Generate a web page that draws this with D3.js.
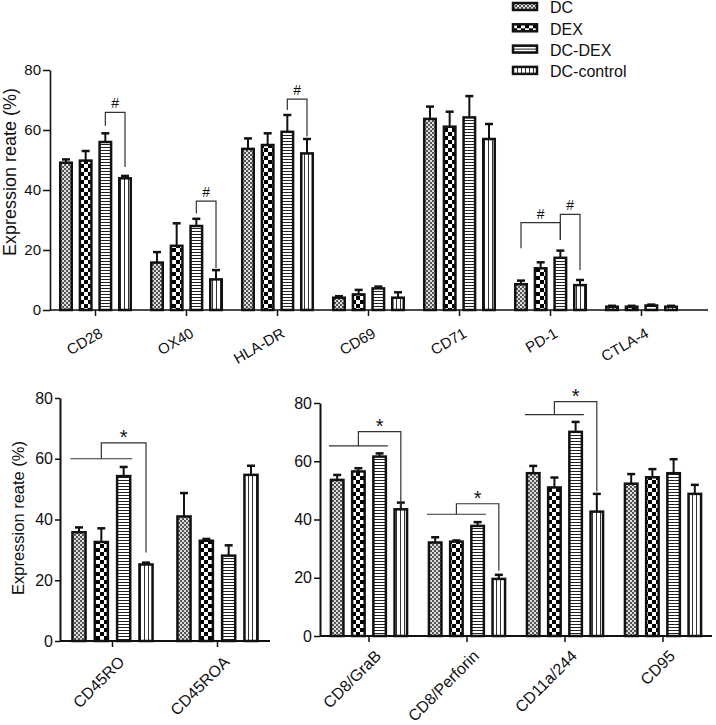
<!DOCTYPE html>
<html>
<head>
<meta charset="utf-8">
<script src="https://cdn.jsdelivr.net/npm/d3@7"></script>
<style>
  body { margin: 0; background: #fff; }
  svg { display: block; font-family: "Liberation Sans", Arial, sans-serif; }
</style>
</head>
<body>
<div id="chart"></div>
<script>
// ---- data ----
const series = ['DC', 'DEX', 'DC-DEX', 'DC-control'];

const topCats = ['CD28', 'OX40', 'HLA-DR', 'CD69', 'CD71', 'PD-1', 'CTLA-4'];
const topMean = [
  [49.1, 15.8, 53.7, 4.1, 63.7, 8.6, 1.1],   // DC
  [49.8, 21.4, 55.0, 5.2, 61.1, 13.9, 1.1],  // DEX
  [56.0, 28.0, 59.4, 7.2, 64.2, 17.4, 1.5],  // DC-DEX
  [43.9, 10.2, 52.2, 4.1, 57.0, 8.3, 1.1]    // DC-control
];
const topErr = [
  [1.1, 3.5, 3.5, 0.5, 4.1, 1.2, 0.3],
  [3.2, 7.5, 3.9, 1.5, 5.0, 2.0, 0.3],
  [2.9, 2.4, 5.6, 0.6, 7.1, 2.4, 0.3],
  [0.8, 3.1, 4.8, 1.8, 5.0, 1.7, 0.3]
];

const leftCats = ['CD45RO', 'CD45ROA'];
const leftMean = [
  [35.8, 41.0],
  [32.6, 33.0],
  [54.3, 28.1],
  [25.2, 54.7]
];
const leftErr = [
  [1.6, 7.7],
  [4.5, 0.6],
  [3.0, 3.4],
  [0.6, 3.0]
];

const rightCats = ['CD8/GraB', 'CD8/Perforin', 'CD11a/244', 'CD95'];
const rightMean = [
  [53.6, 32.1, 55.9, 52.3],
  [56.5, 32.4, 51.0, 54.5],
  [61.6, 37.8, 70.1, 55.9],
  [43.5, 19.6, 42.7, 48.8]
];
const rightErr = [
  [1.7, 1.8, 2.5, 3.3],
  [1.1, 0.4, 3.4, 2.8],
  [1.1, 1.3, 3.4, 4.8],
  [2.3, 1.4, 6.1, 3.1]
];

const yTicks = [0, 20, 40, 60, 80];

// '#' brackets between two bars: a, b = series index; values in %
const topBrackets = [
  { cat: 'CD28', a: 2, b: 3, top: 65.9, dropA: 61.4, dropB: 47.7 },
  { cat: 'OX40', a: 2, b: 3, top: 36.3, dropA: 32.2, dropB: 14.0 },
  { cat: 'HLA-DR', a: 2, b: 3, top: 70.3, dropA: 66.7, dropB: 57.8 },
  { cat: 'PD-1', a: 0, b: 2, top: 29.1, dropA: 20.6, dropB: 23.3 },
  { cat: 'PD-1', a: 2, b: 3, top: 31.9, dropA: 23.3, dropB: 13.3 }
];
// '*' brackets: group of bars 0..2 against bar 3
const leftStars = [
  { cat: 'CD45RO', low: 60.0, high: 65.2, drop: 29.1 }
];
const rightStars = [
  { cat: 'CD8/GraB', low: 65.3, high: 70.2, drop: 44.4 },
  { cat: 'CD8/Perforin', low: 41.8, high: 45.4, drop: 22.4 },
  { cat: 'CD11a/244', low: 76.0, high: 80.5, drop: 49.6 }
];

// ---- drawing ----
const width = 716, height = 725;
const svg = d3.select('#chart').append('svg')
  .attr('width', width)
  .attr('height', height);

const INK = '#111';
const defs = svg.append('defs');

function pattern(id, w, h) {
  return defs.append('pattern').attr('id', id)
    .attr('patternUnits', 'userSpaceOnUse')
    .attr('width', w).attr('height', h);
}
// DC: fine grey checker
const p0 = pattern('pat-0', 4, 4);
p0.append('rect').attr('width', 4).attr('height', 4).attr('fill', '#ddd');
p0.append('rect').attr('width', 2).attr('height', 2).attr('fill', '#555');
p0.append('rect').attr('x', 2).attr('y', 2).attr('width', 2).attr('height', 2).attr('fill', '#555');
// DEX: coarse black/white checker
const p1 = pattern('pat-1', 8, 8);
p1.append('rect').attr('width', 8).attr('height', 8).attr('fill', '#000');
p1.append('rect').attr('width', 4).attr('height', 4).attr('fill', '#fff');
p1.append('rect').attr('x', 4).attr('y', 4).attr('width', 4).attr('height', 4).attr('fill', '#fff');
// DC-DEX: horizontal stripes
const p2 = pattern('pat-2', 4, 3);
p2.append('rect').attr('width', 4).attr('height', 3).attr('fill', '#fff');
p2.append('rect').attr('width', 4).attr('height', 1).attr('fill', '#222');
// DC-control: vertical stripes
const p3 = pattern('pat-3', 4, 4);
p3.append('rect').attr('width', 4).attr('height', 4).attr('fill', '#fff');
p3.append('rect').attr('width', 1).attr('height', 4).attr('fill', '#333');

const fillOf = i => `url(#pat-${i})`;

function drawPanel(cfg) {
  const g = svg.append('g');
  const x0 = d3.scaleBand().domain(cfg.cats).range(cfg.xRange)
    .paddingInner(cfg.groupPad).paddingOuter(cfg.groupPad / 2);
  const x1 = d3.scaleBand().domain(d3.range(series.length))
    .range([0, x0.bandwidth()]).paddingInner(cfg.barPad);
  const y = d3.scaleLinear().domain([0, 80]).range(cfg.yRange);
  const bw = x1.bandwidth();
  const cx = (cat, i) => x0(cat) + x1(i) + bw / 2;
  const mid = cat => x0(cat) + x0.bandwidth() / 2;

  // bars + error bars
  series.forEach((s, i) => {
    const rows = cfg.cats.map((c, j) => ({ cat: c, v: cfg.mean[i][j], e: cfg.err[i][j] }));
    const sg = g.append('g').attr('class', 'series');
    sg.selectAll('line.err')
      .data(rows).enter().append('line')
      .attr('x1', d => cx(d.cat, i)).attr('x2', d => cx(d.cat, i))
      .attr('y1', d => y(d.v)).attr('y2', d => y(d.v + d.e))
      .attr('stroke', INK).attr('stroke-width', 2);
    sg.selectAll('line.cap')
      .data(rows).enter().append('line')
      .attr('x1', d => cx(d.cat, i) - 4).attr('x2', d => cx(d.cat, i) + 4)
      .attr('y1', d => y(d.v + d.e)).attr('y2', d => y(d.v + d.e))
      .attr('stroke', INK).attr('stroke-width', 2.5);
    sg.selectAll('rect')
      .data(rows).enter().append('rect')
      .attr('x', d => x0(d.cat) + x1(i))
      .attr('y', d => y(d.v))
      .attr('width', bw)
      .attr('height', d => y(0) - y(d.v))
      .attr('fill', fillOf(i))
      .attr('stroke', INK).attr('stroke-width', 2.5);
  });

  // axes
  const ya = g.append('g')
    .attr('transform', `translate(${cfg.xRange[0]},0)`)
    .call(d3.axisLeft(y).tickValues(yTicks).tickSize(cfg.tickLen).tickSizeOuter(0).tickPadding(2));
  ya.select('.domain').attr('stroke', INK).attr('stroke-width', cfg.axisW);
  ya.selectAll('.tick line').attr('stroke', INK).attr('stroke-width', 1.5);
  ya.selectAll('.tick text').attr('font-size', cfg.tickFont).attr('fill', INK)
    .attr('font-family', '"Liberation Sans", Arial, sans-serif');

  const xa = g.append('g')
    .attr('transform', `translate(0,${y(0)})`)
    .call(d3.axisBottom(x0).tickSize(6).tickSizeOuter(0).tickFormat(''));
  xa.select('.domain').remove();
  xa.append('line')
    .attr('x1', cfg.xRange[0]).attr('x2', cfg.axisEnd)
    .attr('stroke', INK).attr('stroke-width', cfg.axisW);
  xa.selectAll('.tick line').attr('stroke', INK).attr('stroke-width', 1.5);

  // rotated category labels
  g.append('g').selectAll('text')
    .data(cfg.cats).enter().append('text')
    .attr('transform', d => `translate(${mid(d) + cfg.labelDx},${y(0) + cfg.labelDy}) rotate(${cfg.labelRot})`)
    .attr('text-anchor', 'end')
    .attr('dy', '0.71em')
    .attr('font-size', cfg.labelFont)
    .attr('fill', INK)
    .text(d => d);

  // y title
  if (cfg.title) {
    g.append('text')
      .attr('transform', `translate(${cfg.title.x},${cfg.title.y}) rotate(-90)`)
      .attr('text-anchor', 'middle')
      .attr('dy', '0.35em')
      .attr('font-size', cfg.title.size)
      .attr('fill', INK)
      .text('Expression reate (%)');
  }

  // '#' brackets
  (cfg.pairs || []).forEach(b => {
    const xa_ = cx(b.cat, b.a), xb = cx(b.cat, b.b);
    g.append('path')
      .attr('d', `M${xa_},${y(b.dropA)}V${y(b.top)}H${xb}V${y(b.dropB)}`)
      .attr('fill', 'none').attr('stroke', '#333').attr('stroke-width', 1.2);
    g.append('text')
      .attr('x', (xa_ + xb) / 2).attr('y', y(b.top) - 4)
      .attr('text-anchor', 'middle').attr('font-size', 14).attr('fill', INK)
      .text('#');
  });

  // '*' brackets
  (cfg.stars || []).forEach(b => {
    const left = x0(b.cat) + x1(0) - 2;
    const right = x0(b.cat) + x1(2) + bw + 2;
    const m = (left + right) / 2;
    const tx = cx(b.cat, 3);
    g.append('line')
      .attr('x1', left).attr('x2', right)
      .attr('y1', y(b.low)).attr('y2', y(b.low))
      .attr('stroke', '#333').attr('stroke-width', 1.2);
    g.append('path')
      .attr('d', `M${m},${y(b.low)}V${y(b.high)}H${tx}V${y(b.drop)}`)
      .attr('fill', 'none').attr('stroke', '#333').attr('stroke-width', 1.2);
    g.append('text')
      .attr('x', (m + tx) / 2).attr('y', y(b.high) + 1)
      .attr('text-anchor', 'middle').attr('font-size', 20).attr('fill', INK)
      .text('*');
  });
}

// top panel
drawPanel({
  cats: topCats, mean: topMean, err: topErr,
  xRange: [50, 687], axisEnd: 708, yRange: [310, 70],
  groupPad: 0.225, barPad: 0.415,
  tickLen: 7, tickFont: 15, axisW: 1.6,
  labelFont: 15, labelDx: 3, labelDy: 17, labelRot: -30,
  title: { x: 10, y: 172, size: 18 },
  pairs: topBrackets
});

// bottom left
drawPanel({
  cats: leftCats, mean: leftMean, err: leftErr,
  xRange: [60, 270], axisEnd: 270, yRange: [641, 398],
  groupPad: 0.237, barPad: 0.413,
  tickLen: 5, tickFont: 16, axisW: 2,
  labelFont: 16, labelDx: 5, labelDy: 14, labelRot: -45,
  title: { x: 18, y: 518, size: 16.5 },
  stars: leftStars
});

// bottom right
drawPanel({
  cats: rightCats, mean: rightMean, err: rightErr,
  xRange: [320, 712], axisEnd: 712, yRange: [636, 403],
  groupPad: 0.223, barPad: 0.41,
  tickLen: 6, tickFont: 16, axisW: 2,
  labelFont: 16, labelDx: 5, labelDy: 13, labelRot: -45,
  stars: rightStars
});

// legend
const legend = svg.append('g').attr('transform', 'translate(513,3)');
series.forEach((s, i) => {
  const row = legend.append('g').attr('transform', `translate(0,${i * 21.3})`);
  row.append('rect')
    .attr('width', 24).attr('height', 7)
    .attr('fill', fillOf(i))
    .attr('stroke', INK).attr('stroke-width', 2.5);
  row.append('text')
    .attr('x', 37).attr('y', 4.8).attr('dy', '0.35em')
    .attr('font-size', 16).attr('fill', INK)
    .text(s);
});
</script>
</body>
</html>
